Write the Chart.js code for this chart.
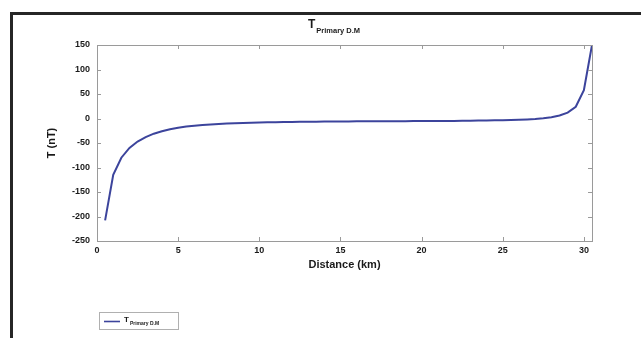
<!DOCTYPE html>
<html>
<head>
<meta charset="utf-8">
<script src="https://cdn.jsdelivr.net/npm/chart.js@4.4.1/dist/chart.umd.min.js"></script>
<style>
  html, body { margin: 0; padding: 0; background: #fff; }
  #wrap { width: 641px; height: 338px; position: relative; }
</style>
</head>
<body>
<div id="wrap"><canvas id="chart" width="641" height="338"></canvas></div>
<script>
// distance along profile (km) and primary total field (nT)
const distance = [
  0.5, 1.0, 1.5, 2.0, 2.5, 3.0, 3.5, 4.0, 4.5, 5.0,
  5.5, 6.0, 6.5, 7.0, 7.5, 8.0, 8.5, 9.0, 9.5, 10.0,
  10.5, 11.0, 11.5, 12.0, 12.5, 13.0, 13.5, 14.0, 14.5, 15.0,
  15.5, 16.0, 16.5, 17.0, 17.5, 18.0, 18.5, 19.0, 19.5, 20.0,
  20.5, 21.0, 21.5, 22.0, 22.5, 23.0, 23.5, 24.0, 24.5, 25.0,
  25.5, 26.0, 26.5, 27.0, 27.5, 28.0, 28.5, 29.0, 29.5, 30.0, 30.5
];
const tPrimary = [
  -208, -115, -80, -60, -47, -38, -31, -26, -22, -19,
  -16.5, -14.8, -13.4, -12.2, -11.2, -10.4, -9.7, -9.1, -8.6, -8.2,
  -7.8, -7.5, -7.2, -7, -6.8, -6.6, -6.4, -6.2, -6.1, -6,
  -5.9, -5.8, -5.7, -5.6, -5.5, -5.5, -5.4, -5.4, -5.3, -5.3,
  -5.2, -5.1, -5, -4.9, -4.7, -4.5, -4.3, -4.1, -3.8, -3.4,
  -3, -2.5, -1.8, -0.9, 0.4, 2.4, 6, 12, 24, 58, 150
];
const xTicks = [0, 5, 10, 15, 20, 25, 30];
const yTicks = [-250, -200, -150, -100, -50, 0, 50, 100, 150];

const FONT = '"Liberation Sans", Arial, sans-serif';
const LINE = '#3c449c';
const AXIS = '#9a9a9a';

// text with a subscript, e.g. T_Primary D.M
function subText(ctx, x, y, main, sub, mainSize, subSize, drop) {
  ctx.font = 'bold ' + mainSize + 'px ' + FONT;
  ctx.textAlign = 'left';
  ctx.textBaseline = 'alphabetic';
  ctx.fillText(main, x, y);
  const w = ctx.measureText(main).width;
  ctx.font = 'bold ' + subSize + 'px ' + FONT;
  ctx.fillText(sub, x + w + 1, y + drop);
}

const decor = {
  id: 'decor',
  afterDraw(chart) {
    const ctx = chart.ctx;
    const a = chart.chartArea;
    const xs = chart.scales.x, ys = chart.scales.y;
    ctx.save();
    // box
    ctx.strokeStyle = AXIS;
    ctx.lineWidth = 1;
    ctx.strokeRect(a.left + 0.5, a.top + 0.5, a.right - a.left, a.bottom - a.top);
    // inward ticks on all four sides
    ctx.beginPath();
    xTicks.forEach(v => {
      const px = Math.round(xs.getPixelForValue(v)) + 0.5;
      ctx.moveTo(px, a.bottom); ctx.lineTo(px, a.bottom - 4);
      ctx.moveTo(px, a.top); ctx.lineTo(px, a.top + 4);
    });
    yTicks.forEach(v => {
      const py = Math.round(ys.getPixelForValue(v)) + 0.5;
      ctx.moveTo(a.left, py); ctx.lineTo(a.left + 4, py);
      ctx.moveTo(a.right, py); ctx.lineTo(a.right - 4, py);
    });
    ctx.stroke();

    ctx.fillStyle = '#1a1a1a';
    // title
    subText(ctx, 308, 28, 'T', 'Primary D.M', 12, 7.5, 5);
    // axis titles
    ctx.font = 'bold 11px ' + FONT;
    ctx.textAlign = 'center';
    ctx.textBaseline = 'middle';
    ctx.fillText('Distance (km)', (a.left + a.right) / 2, 265);
    ctx.save();
    ctx.translate(52, (a.top + a.bottom) / 2);
    ctx.rotate(-Math.PI / 2);
    ctx.fillText('T (nT)', 0, 0);
    ctx.restore();

    // legend
    ctx.strokeStyle = '#b0b0b0';
    ctx.strokeRect(99.5, 312.5, 79, 17);
    ctx.strokeStyle = LINE;
    ctx.lineWidth = 1.6;
    ctx.beginPath();
    ctx.moveTo(104, 321.5); ctx.lineTo(120, 321.5);
    ctx.stroke();
    subText(ctx, 124, 322, 'T', 'Primary D.M', 8, 5, 3);

    // outer frame
    ctx.strokeStyle = '#262626';
    ctx.lineWidth = 3;
    ctx.beginPath();
    ctx.moveTo(11.5, 345); ctx.lineTo(11.5, 13.5); ctx.lineTo(650, 13.5);
    ctx.stroke();
    ctx.restore();
  }
};

new Chart(document.getElementById('chart'), {
  type: 'line',
  data: {
    datasets: [{
      label: 'T Primary D.M',
      data: distance.map((d, i) => ({ x: d, y: tPrimary[i] })),
      borderColor: LINE,
      borderWidth: 2,
      pointRadius: 0,
      tension: 0,
      fill: false
    }]
  },
  options: {
    responsive: false,
    animation: false,
    layout: { padding: { left: 20, top: 45, right: 49, bottom: 77 } },
    plugins: { legend: { display: false }, title: { display: false }, tooltip: { enabled: false } },
    scales: {
      x: {
        type: 'linear',
        min: 0, max: 30.5,
        afterFit: s => { s.height = 20; },
        afterBuildTicks: s => { s.ticks = xTicks.map(v => ({ value: v })); },
        grid: { display: false, drawTicks: false, tickLength: 0 },
        border: { display: false },
        ticks: { color: '#1a1a1a', font: { family: FONT, size: 9, weight: 'bold' }, padding: 4, maxRotation: 0 }
      },
      y: {
        min: -250, max: 150,
        afterFit: s => { s.width = 77; },
        afterBuildTicks: s => { s.ticks = yTicks.map(v => ({ value: v })); },
        grid: { display: false, drawTicks: false, tickLength: 0 },
        border: { display: false },
        ticks: { color: '#1a1a1a', font: { family: FONT, size: 9, weight: 'bold' }, padding: 7 }
      }
    }
  },
  plugins: [decor]
});
</script>
</body>
</html>
